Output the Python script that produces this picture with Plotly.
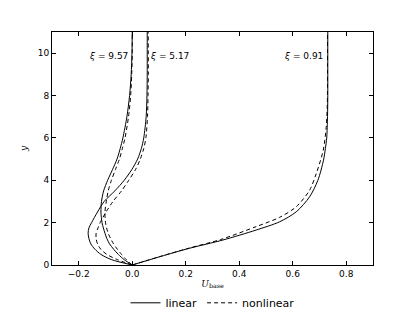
import plotly.graph_objects as go

# ---- data ----
y_grid = [0, 0.25, 0.5, 0.75, 1.0, 1.25, 1.5, 1.75, 2.0, 2.5, 3.0, 3.5, 4.0,
          4.5, 5.0, 5.5, 6.0, 7.0, 8.0, 9.0, 10.0, 11.0]

u_lin_957 = [0, -0.030, -0.052, -0.070, -0.085, -0.095, -0.102, -0.108, -0.113,
             -0.117, -0.115, -0.107, -0.092, -0.074, -0.057, -0.045, -0.035,
             -0.020, -0.010, -0.004, -0.001, 0.0]
u_non_957 = [0, -0.022, -0.040, -0.056, -0.070, -0.081, -0.090, -0.096, -0.100,
             -0.102, -0.097, -0.090, -0.078, -0.063, -0.048, -0.037, -0.027,
             -0.014, -0.006, -0.002, 0.0, 0.0]

u_lin_517 = [0, -0.077, -0.117, -0.140, -0.155, -0.162, -0.165, -0.162, -0.152,
             -0.130, -0.105, -0.065, -0.030, -0.002, 0.020, 0.034, 0.043,
             0.052, 0.055, 0.056, 0.056, 0.056]
u_non_517 = [0, -0.055, -0.095, -0.118, -0.130, -0.135, -0.135, -0.128, -0.120,
             -0.098, -0.072, -0.040, -0.013, 0.012, 0.030, 0.043, 0.051,
             0.057, 0.059, 0.060, 0.060, 0.060]

y_lin_091 = [0, 0.4, 0.79, 1.18, 1.65, 2.04, 2.51, 3.22, 4.0, 4.95, 5.5, 6.0,
             7.0, 8.0, 9.0, 10.0, 11.0]
u_lin_091 = [0, 0.105, 0.214, 0.339, 0.463, 0.551, 0.613, 0.663, 0.694, 0.715,
             0.722, 0.727, 0.730, 0.731, 0.731, 0.731, 0.731]
y_non_091 = [0, 0.4, 0.79, 1.2, 1.81, 2.25, 2.75, 3.53, 4.32, 5.42, 6.5, 7.5,
             8.5, 9.5, 11.0]
u_non_091 = [0, 0.104, 0.210, 0.330, 0.463, 0.551, 0.613, 0.663, 0.688, 0.714,
             0.725, 0.729, 0.730, 0.730, 0.730]

labels = ["<i>ξ</i> = 9.57", "<i>ξ</i> = 5.17", "<i>ξ</i> = 0.91"]
label_x = [-0.089, 0.14, 0.64]
label_y = [9.85, 9.85, 9.85]

x_ticks = [-0.2, 0.0, 0.2, 0.4, 0.6, 0.8]
x_ticktext = ["−0.2", "0.0", "0.2", "0.4", "0.6", "0.8"]
y_ticks = [0, 2, 4, 6, 8, 10]

fig = go.Figure()

lin_sets = [(u_lin_957, y_grid), (u_lin_517, y_grid), (u_lin_091, y_lin_091)]
non_sets = [(u_non_957, y_grid), (u_non_517, y_grid), (u_non_091, y_non_091)]

for i, (u, yy) in enumerate(lin_sets):
    fig.add_trace(go.Scatter(x=u, y=yy, mode="lines",
                             line=dict(color="black", width=1, shape="spline", smoothing=0.8),
                             name="linear", legendgroup="linear", showlegend=(i == 0)))
for i, (u, yy) in enumerate(non_sets):
    fig.add_trace(go.Scatter(x=u, y=yy, mode="lines",
                             line=dict(color="black", width=1, dash="4px,3px", shape="spline",
                                       smoothing=0.8),
                             name="nonlinear", legendgroup="nonlinear", showlegend=(i == 0)))

for t, lx, ly in zip(labels, label_x, label_y):
    fig.add_annotation(x=lx, y=ly, text=t, showarrow=False,
                       font=dict(family="DejaVu Sans", size=9, color="black"))

axis_common = dict(showline=True, linecolor="black", linewidth=1, mirror="ticks",
                   ticks="inside", ticklen=4, tickcolor="black", showgrid=False,
                   zeroline=False, tickfont=dict(family="DejaVu Sans", size=9, color="black"))

fig.update_xaxes(range=[-0.3, 0.9], tickvals=x_ticks, ticktext=x_ticktext,
                 title=dict(text="<i>U</i><sub>base</sub>", standoff=2,
                            font=dict(family="DejaVu Serif", size=9, color="black")),
                 **axis_common)
fig.update_yaxes(range=[0, 11], tickvals=y_ticks,
                 title=dict(text="<i>y</i>", standoff=8,
                            font=dict(family="DejaVu Serif", size=9, color="black")),
                 **axis_common)

# the page body adds an 8px offset, so the figure is 8px smaller than the window
fig.update_layout(
    width=407, height=304,
    margin=dict(l=44, r=42, t=24, b=47, autoexpand=False),
    paper_bgcolor="white", plot_bgcolor="white",
    legend=dict(orientation="h", x=0.5, xanchor="center", y=-0.1, yanchor="top",
                font=dict(family="DejaVu Sans", size=11, color="black"),
                itemwidth=30, bgcolor="rgba(0,0,0,0)"),
)

fig.write_html("out.html")
